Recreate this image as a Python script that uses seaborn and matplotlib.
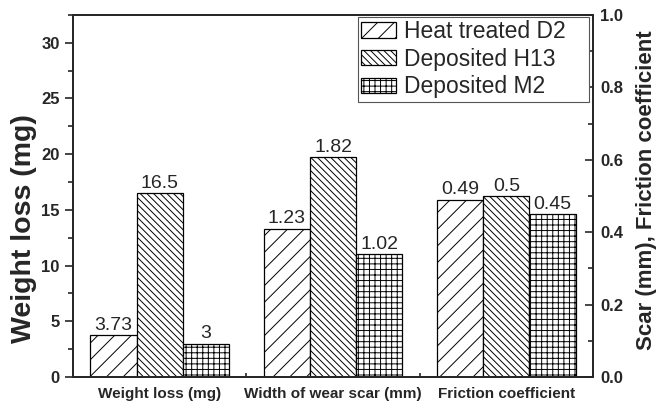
import matplotlib.pyplot as plt
import seaborn as sns
import pandas as pd
from matplotlib.ticker import MultipleLocator, FixedLocator, FormatStrFormatter

groups = ["Weight loss (mg)", "Width of wear scar (mm)", "Friction coefficient"]
materials = ["Heat treated D2", "Deposited H13", "Deposited M2"]
weight_loss = [3.73, 16.5, 3]
scar_width = [1.23, 1.82, 1.02]
friction = [0.49, 0.5, 0.45]
hatches = ["//", "\\\\\\\\\\", "+++"]

# right axis 0-1 sits on left axis 0-32.5; scar is drawn at mm/3 on the right axis
left_top = 32.5
rows = []
for i, m in enumerate(materials):
    rows.append([groups[0], m, weight_loss[i], weight_loss[i]])
    rows.append([groups[1], m, scar_width[i] / 3 * left_top, scar_width[i]])
    rows.append([groups[2], m, friction[i] * left_top, friction[i]])
df = pd.DataFrame(rows, columns=["group", "material", "height", "value"])

sns.set_style("ticks")
plt.rcParams["font.family"] = ["Liberation Sans", "DejaVu Sans"]
plt.rcParams["hatch.linewidth"] = 0.7

fig = plt.figure(figsize=(6.65, 4.05), dpi=100)
ax = fig.add_axes([0.1098, 0.0691, 0.782, 0.894])

sns.barplot(data=df, x="group", y="height", hue="material", order=groups,
            hue_order=materials, palette=["white"] * 3, edgecolor="black",
            linewidth=0.9, width=0.8, gap=0, legend=False, ax=ax)

for c, h, m in zip(ax.containers, hatches, materials):
    for bar in c:
        bar.set_hatch(h)
    vals = [df[(df.material == m) & (df.group == g)].value.iloc[0] for g in groups]
    ax.bar_label(c, labels=[f"{v:g}" for v in vals], padding=1, fontsize=14)

ax.set_xlim(-0.5, 2.5)
ax.set_ylim(0, left_top)
ax.yaxis.set_major_locator(MultipleLocator(5))
ax.yaxis.set_minor_locator(MultipleLocator(2.5))
ax.tick_params(axis="y", which="major", direction="out", length=6, width=1.2, labelsize=12)
ax.tick_params(axis="y", which="minor", direction="out", length=3.5, width=1.2)
ax.set_xticks([0, 1, 2])
ax.set_xticklabels(groups)
ax.xaxis.set_minor_locator(FixedLocator([0.5, 1.5]))
ax.tick_params(axis="x", which="major", length=0, labelsize=11, pad=7)
ax.tick_params(axis="x", which="minor", direction="in", length=3, width=1.2)
ax.set_xlabel("")
ax.set_ylabel("Weight loss (mg)", fontsize=20.5, fontweight="bold")
ax.yaxis.set_label_coords(-0.07, 0.41)
for lbl in ax.get_xticklabels() + ax.get_yticklabels():
    lbl.set_fontweight("bold")
for s in ax.spines.values():
    s.set_linewidth(1.3)
    s.set_visible(True)

ax2 = ax.twinx()
ax2.set_ylim(0, 1.0)
ax2.yaxis.set_major_locator(MultipleLocator(0.2))
ax2.yaxis.set_minor_locator(MultipleLocator(0.1))
ax2.yaxis.set_major_formatter(FormatStrFormatter("%.1f"))
ax2.tick_params(axis="y", which="major", direction="in", length=6, width=1.2, labelsize=12, pad=5)
ax2.tick_params(axis="y", which="minor", direction="in", length=3.5, width=1.2)
ax2.set_ylabel("Scar (mm), Friction coefficient", fontsize=16, fontweight="bold")
ax2.yaxis.set_label_coords(1.082, 0.515)
for lbl in ax2.get_yticklabels():
    lbl.set_fontweight("bold")
for s in ax2.spines.values():
    s.set_linewidth(1.3)

leg = ax2.legend(handles=[c.patches[0] for c in ax.containers], labels=materials,
                 loc="upper left", bbox_to_anchor=(0.548, 0.0, 0.444, 0.995),
                 mode="expand", fontsize=16.5, frameon=True, fancybox=False,
                 edgecolor="#555555", framealpha=1, borderaxespad=0,
                 borderpad=0.15, labelspacing=0.2, handlelength=1.5,
                 handleheight=0.65, handletextpad=0.35)
leg.get_frame().set_linewidth(0.8)

fig.savefig("out.png", dpi=100)
